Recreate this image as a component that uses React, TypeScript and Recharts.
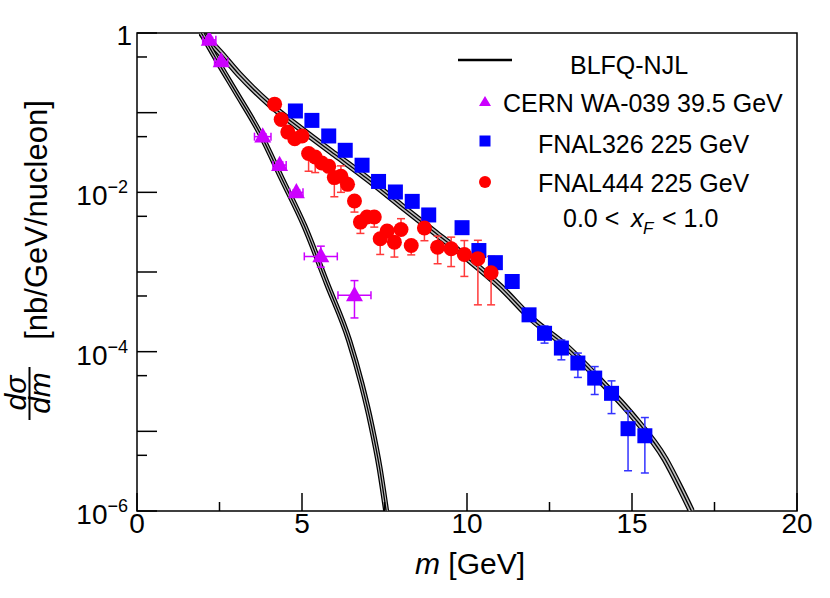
import { ComposedChart, Line, Scatter, XAxis, YAxis, ErrorBar, ReferenceArea } from "recharts";

// BLFQ-NJL curve for the FNAL 225 GeV beam
const blfqHighM = [1.95, 2.5, 3.1, 3.5, 4.0, 5.0, 6.0, 7.0, 8.0, 9.0, 10.0, 11.0, 12.0, 13.0, 14.0, 15.0, 16.0, 16.5, 16.8];
const blfqHighY = [1.0, 0.58, 0.3, 0.203, 0.13, 0.061, 0.0298, 0.0146, 0.0068, 0.0032, 0.0015, 6.6e-4, 2.5e-4, 1.17e-4, 4.5e-5, 1.6e-5, 4.5e-6, 1.8e-6, 1.0e-6];

// BLFQ-NJL curve for the CERN 39.5 GeV beam
const blfqLowM = [1.95, 2.5, 3.0, 3.73, 4.4, 5.07, 5.76, 6.43, 6.8, 7.1, 7.35, 7.55];
const blfqLowY = [1.0, 0.4, 0.18, 0.055, 0.0145, 3.8e-3, 7.1e-4, 1.37e-4, 4.0e-5, 1.2e-5, 3.5e-6, 1.0e-6];

// CERN WA-039 39.5 GeV
const waM = [2.19, 2.55, 3.81, 4.32, 4.83, 5.57, 6.59];
const waY = [0.82, 0.44, 0.05, 0.022, 0.01, 1.57e-3, 5.1e-4];
const waLo = [0.76, 0.41, 0.046, 0.02, 0.0093, 1.15e-3, 2.65e-4];
const waHi = [0.88, 0.47, 0.054, 0.024, 0.0107, 2.11e-3, 7.8e-4];
const waDm = [0.2, 0.2, 0.25, 0.2, 0.2, 0.5, 0.5];

// FNAL326 225 GeV
const e326M = [4.8, 5.3, 5.81, 6.31, 6.82, 7.32, 7.83, 8.34, 8.84, 9.85, 10.36, 10.86, 11.37, 11.88, 12.35, 12.86, 13.36, 13.87, 14.38, 14.88, 15.39];
const e326Y = [0.105, 0.08, 0.051, 0.0337, 0.0219, 0.0137, 0.0101, 7.7e-3, 5.2e-3, 3.6e-3, 1.86e-3, 1.31e-3, 7.6e-4, 2.9e-4, 1.7e-4, 1.11e-4, 7.2e-5, 4.66e-5, 3.0e-5, 1.08e-5, 8.8e-6];
const e326Lo = [0.1, 0.076, 0.048, 0.032, 0.0208, 0.013, 9.6e-3, 7.3e-3, 4.9e-3, 3.4e-3, 1.75e-3, 1.23e-3, 7.1e-4, 2.6e-4, 1.28e-4, 7.9e-5, 4.75e-5, 2.9e-5, 1.67e-5, 3.2e-6, 3.0e-6];
const e326Hi = [0.11, 0.084, 0.054, 0.0354, 0.023, 0.0144, 0.0106, 8.1e-3, 5.5e-3, 3.8e-3, 1.97e-3, 1.39e-3, 8.1e-4, 3.2e-4, 2.1e-4, 1.4e-4, 9.6e-5, 6.5e-5, 4.3e-5, 1.8e-5, 1.49e-5];

// FNAL444 225 GeV
const e444M = [4.17, 4.37, 4.57, 4.78, 5.0, 5.2, 5.4, 5.6, 5.81, 5.98, 6.18, 6.38, 6.59, 6.77, 6.97, 7.19, 7.37, 7.58, 7.8, 8.0, 8.31, 8.71, 9.11, 9.52, 9.92, 10.33, 10.73];
const e444Y = [0.128, 0.082, 0.057, 0.047, 0.051, 0.0307, 0.0278, 0.0233, 0.0212, 0.0153, 0.0159, 0.0126, 7.8e-3, 4.23e-3, 4.9e-3, 4.9e-3, 2.61e-3, 3.26e-3, 2.37e-3, 3.42e-3, 2.15e-3, 3.56e-3, 2.05e-3, 1.96e-3, 1.66e-3, 1.47e-3, 9.8e-4];
const e444Lo = [0.12, 0.077, 0.053, 0.044, 0.048, 0.0184, 0.0177, 0.021, 0.019, 8.8e-3, 0.01, 0.0115, 5.65e-3, 3.05e-3, 4.5e-3, 3.66e-3, 1.66e-3, 3.0e-3, 1.54e-3, 3.1e-3, 1.64e-3, 2.47e-3, 1.27e-3, 1.17e-3, 8.8e-4, 3.87e-4, 3.87e-4];
const e444Hi = [0.136, 0.087, 0.061, 0.05, 0.054, 0.033, 0.03, 0.025, 0.023, 0.0165, 0.0215, 0.0137, 8.4e-3, 4.6e-3, 5.3e-3, 5.3e-3, 2.8e-3, 3.5e-3, 2.55e-3, 4.67e-3, 2.3e-3, 4.6e-3, 2.82e-3, 2.74e-3, 2.48e-3, 2.5e-3, 1.57e-3];

const xTicks = [0, 2.5, 5, 7.5, 10, 12.5, 15, 17.5, 20];
const yTicks = [1, 0.5, 0.1, 0.05, 0.01, 5e-3, 1e-3, 5e-4, 1e-4, 5e-5, 1e-5, 5e-6, 1e-6];

const FONT = '"Liberation Sans", Arial, Helvetica, sans-serif';
const PLOT = { left: 137, right: 797, top: 33, bottom: 511 };
const PURPLE = "#cc00ff";
const BLUE = "#0000ff";
const RED = "#ff0000";

const highData = blfqHighM.map((m, i) => ({ m, y: blfqHighY[i] }));
const lowData = blfqLowM.map((m, i) => ({ m, y: blfqLowY[i] }));
const waData = waM.map((m, i) => ({ m, y: waY[i], ey: [waY[i] - waLo[i], waHi[i] - waY[i]], ex: waDm[i] }));
const e326Data = e326M.map((m, i) => ({ m, y: e326Y[i], ey: [e326Y[i] - e326Lo[i], e326Hi[i] - e326Y[i]] }));
const e444Data = e444M.map((m, i) => ({ m, y: e444Y[i], ey: [e444Y[i] - e444Lo[i], e444Hi[i] - e444Y[i]] }));

function XTick({ x, payload }: any) {
    const v = payload.value;
    const major = v % 5 === 0;
    return (
        <g>
            <line x1={x} x2={x} y1={PLOT.bottom} y2={PLOT.bottom - (major ? 18 : 9)} stroke="#000" strokeWidth={1.5} />
            {major && (
                <text x={x} y={PLOT.bottom + 22} textAnchor="middle" fontSize={28} fontFamily={FONT} fill="#000">
                    {v}
                </text>
            )}
        </g>
    );
}

function YTick({ y, payload }: any) {
    const lg = Math.log10(payload.value);
    const exp = Math.round(lg);
    const decade = Math.abs(lg - exp) < 1e-6;
    const len = decade ? 20 : 10;
    return (
        <g>
            <line x1={PLOT.left} x2={PLOT.left + len} y1={y} y2={y} stroke="#000" strokeWidth={1.5} />
            {decade && exp === 0 && (
                <text x={132} y={y + 12} textAnchor="end" fontSize={28} fontFamily={FONT} fill="#000">1</text>
            )}
            {decade && exp !== 0 && exp % 2 === 0 && (
                <text x={128} y={y + 13} textAnchor="end" fontSize={28} fontFamily={FONT} fill="#000">
                    10<tspan dy={-12} fontSize={18}>{"\u2212" + -exp}</tspan>
                </text>
            )}
        </g>
    );
}

const triangle = (color: string, s: number) => (p: any) => (
    <polygon
        points={`${p.cx},${p.cy - s * 0.55} ${p.cx - s / 2},${p.cy + s * 0.35} ${p.cx + s / 2},${p.cy + s * 0.35}`}
        fill={color}
    />
);
const square = (color: string, s: number) => (p: any) => (
    <rect x={p.cx - s / 2} y={p.cy - s / 2} width={s} height={s} fill={color} />
);
const circle = (color: string, r: number) => (p: any) => <circle cx={p.cx} cy={p.cy} r={r} fill={color} />;

export default function App() {
    // black edges, grey fill and a black centre line, like the uncertainty band
    const bandLines = (data: any[], key: string, outer: number, inner: number) => [
        <Line key={key + "a"} data={data} dataKey="y" type="monotone" stroke="#000" strokeWidth={outer} dot={false} activeDot={false} isAnimationActive={false} />,
        <Line key={key + "b"} data={data} dataKey="y" type="monotone" stroke="#bdbdbd" strokeWidth={inner} dot={false} activeDot={false} isAnimationActive={false} />,
        <Line key={key + "c"} data={data} dataKey="y" type="monotone" stroke="#000" strokeWidth={1.3} dot={false} activeDot={false} isAnimationActive={false} />,
    ];

    return (
        <div style={{ position: "absolute", left: 0, top: 0, width: 830, height: 598, background: "#fff" }}>
            <ComposedChart width={830} height={598} margin={{ top: 33, right: 33, bottom: 47, left: 77 }}>
                <XAxis
                    dataKey="m"
                    type="number"
                    domain={[0, 20]}
                    ticks={xTicks}
                    interval={0}
                    allowDataOverflow
                    height={40}
                    axisLine={false}
                    tickLine={false}
                    tick={(p: any) => <XTick {...p} />}
                />
                <YAxis
                    dataKey="y"
                    type="number"
                    scale="log"
                    domain={[1e-6, 1]}
                    ticks={yTicks}
                    interval={0}
                    allowDataOverflow
                    width={60}
                    axisLine={false}
                    tickLine={false}
                    tick={(p: any) => <YTick {...p} />}
                />
                <ReferenceArea x1={0} x2={20} y1={1e-6} y2={1} fill="none" stroke="#000" strokeWidth={1.5} />
                {bandLines(highData, "high", 7, 4.5)}
                {bandLines(lowData, "low", 6, 3.5)}
                <Scatter data={waData} dataKey="y" shape={triangle(PURPLE, 17)} isAnimationActive={false}>
                    <ErrorBar dataKey="ey" direction="y" width={4} stroke={PURPLE} strokeWidth={1.5} />
                    <ErrorBar dataKey="ex" direction="x" width={4} stroke={PURPLE} strokeWidth={1.5} />
                </Scatter>
                <Scatter data={e326Data} dataKey="y" shape={square(BLUE, 15)} isAnimationActive={false}>
                    <ErrorBar dataKey="ey" direction="y" width={4} stroke="#3333ff" strokeWidth={1.5} />
                </Scatter>
                <Scatter data={e444Data} dataKey="y" shape={circle(RED, 7.5)} isAnimationActive={false}>
                    <ErrorBar dataKey="ey" direction="y" width={4} stroke="#ff3a3a" strokeWidth={1.5} />
                </Scatter>
            </ComposedChart>

            <svg width={830} height={598} style={{ position: "absolute", left: 0, top: 0, pointerEvents: "none" }} fontFamily={FONT}>
                {/* legend */}
                <line x1={458} x2={512} y1={60} y2={60} stroke="#000" strokeWidth={2.5} />
                <text x={570} y={74} fontSize={25}>BLFQ-NJL</text>
                <polygon points="485,96 479,106 491,106" fill={PURPLE} />
                <text x={503} y={112} fontSize={25}>CERN WA-039 39.5 GeV</text>
                <rect x={479.5} y={135.5} width={11} height={11} fill={BLUE} />
                <text x={538} y={153} fontSize={25}>FNAL326 225 GeV</text>
                <circle cx={485} cy={182} r={6} fill={RED} />
                <text x={538} y={192} fontSize={25}>FNAL444 225 GeV</text>
                <text x={563} y={227} fontSize={25}>0.0 &lt;</text>
                <text x={631} y={227} fontSize={25} fontStyle="italic">x</text>
                <text x={643} y={234} fontSize={17} fontStyle="italic">F</text>
                <text x={662} y={227} fontSize={25}>&lt; 1.0</text>

                {/* x title */}
                <text x={470} y={574} textAnchor="middle" fontSize={30}>
                    <tspan fontStyle="italic">m</tspan> [GeV]
                </text>

                {/* y title */}
                <text transform="translate(47,220) rotate(-90)" textAnchor="middle" fontSize={31}>[nb/GeV/nucleon]</text>
                <text transform="translate(26,393) rotate(-90)" textAnchor="middle" fontSize={30} fontStyle="italic">d{"\u03c3"}</text>
                <line x1={29.5} x2={29.5} y1={367} y2={420} stroke="#000" strokeWidth={2} />
                <text transform="translate(50,393) rotate(-90)" textAnchor="middle" fontSize={30} fontStyle="italic">dm</text>
            </svg>
        </div>
    );
}
